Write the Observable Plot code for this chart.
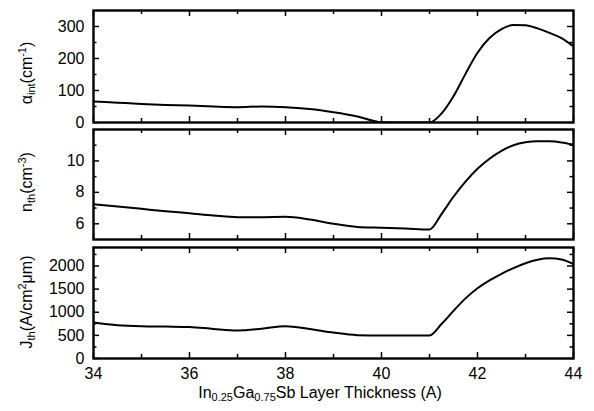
<!DOCTYPE html>
<html>
<head>
<meta charset="utf-8">
<script src="https://cdn.jsdelivr.net/npm/d3@7"></script>
<script src="https://cdn.jsdelivr.net/npm/@observablehq/plot@0.6"></script>
<style>
  html, body { margin: 0; padding: 0; background: #fff; }
  #chart { position: relative; width: 594px; height: 411px; overflow: hidden; font-family: "Liberation Sans", Arial, sans-serif; }
  #chart svg { position: absolute; left: 0; overflow: visible; }
</style>
</head>
<body>
<div id="chart"></div>
<script>
// ---- data ----
const thickness = [34, 34.5, 35, 35.5, 36, 36.5, 37, 37.5, 38, 38.5, 39, 39.5, 40, 40.5, 41,
                   41.25, 41.5, 41.75, 42, 42.25, 42.5, 42.75, 43, 43.25, 43.5, 43.75, 44];
const alphaInt = [66, 62, 58, 55, 53, 50, 48, 50, 48, 42, 32, 19, 1, 0, 0,
                  28, 82, 152, 218, 264, 292, 305, 304, 294, 280, 264, 238];
const nTh = [7.24, 7.1, 6.95, 6.8, 6.67, 6.53, 6.42, 6.42, 6.44, 6.27, 6.0, 5.8, 5.75, 5.7, 5.64,
             6.62, 7.72, 8.68, 9.5, 10.14, 10.64, 11.0, 11.19, 11.26, 11.25, 11.18, 11.03];
const jTh = [776, 720, 697, 690, 682, 640, 608, 645, 700, 640, 560, 505, 495, 500, 498,
             745, 1030, 1300, 1520, 1690, 1830, 1955, 2060, 2135, 2165, 2140, 2040];

const xMajor = [34, 36, 38, 40, 42, 44];
const xMinor = [35, 37, 39, 41, 43];
const alphaMajor = [0, 100, 200, 300], alphaMinor = [50, 150, 250];
const nMajor = [6, 8, 10], nMinor = [7, 9, 11];
const jMajor = [0, 500, 1000, 1500, 2000], jMinor = [250, 750, 1250, 1750, 2250];

const W = 594, ML = 93, MR = 21;
const font = '"Liberation Sans", Arial, sans-serif';
const chart = document.getElementById("chart");

function panel({values, domain, major, minor, top, height, mt, mb, xAxis}) {
  const pw = W - ML - MR, ph = height - mt - mb;
  const data = thickness.map((x, i) => ({x, v: values[i]}));
  const marks = [
    Plot.tickY(major, {y: d => d, insetRight: pw - 6, strokeWidth: 1.5}),
    Plot.tickY(major, {y: d => d, insetLeft: pw - 6, strokeWidth: 1.5}),
    Plot.tickY(minor, {y: d => d, insetRight: pw - 3.5, strokeWidth: 1.5}),
    Plot.tickY(minor, {y: d => d, insetLeft: pw - 3.5, strokeWidth: 1.5}),
    Plot.tickX(xMajor, {x: d => d, insetBottom: ph - 6, strokeWidth: 1.5}),
    Plot.tickX(xMajor, {x: d => d, insetTop: ph - 6, strokeWidth: 1.5}),
    Plot.tickX(xMinor, {x: d => d, insetBottom: ph - 4, strokeWidth: 1.5}),
    Plot.tickX(xMinor, {x: d => d, insetTop: ph - 4, strokeWidth: 1.5}),
    Plot.line(data, {x: "x", y: "v", curve: "monotone-x", strokeWidth: 2, stroke: "#000", clip: true}),
    Plot.frame({strokeWidth: 2.4}),
    Plot.axisY(major, {tickSize: 0, tickPadding: 9, fontSize: 16, label: null, tickFormat: d3.format("d")})
  ];
  if (xAxis) marks.push(Plot.axisX(xMajor, {tickSize: 0, tickPadding: 9, fontSize: 16, label: null, tickFormat: d3.format("d")}));
  const svg = Plot.plot({
    width: W, height,
    marginLeft: ML, marginRight: MR, marginTop: mt, marginBottom: mb,
    x: {domain: [34, 44], axis: xAxis ? undefined : null, label: null},
    y: {domain, label: null},
    style: {fontFamily: font, fontSize: "16px", background: "transparent", overflow: "visible", color: "#000"},
    marks
  });
  svg.style.top = top + "px";
  chart.appendChild(svg);
}

panel({values: alphaInt, domain: [0, 350], major: alphaMajor, minor: alphaMinor, top: 0, height: 126, mt: 10, mb: 4});
panel({values: nTh, domain: [5, 12], major: nMajor, minor: nMinor, top: 125, height: 118, mt: 4, mb: 4});
panel({values: jTh, domain: [0, 2400], major: jMajor, minor: jMinor, top: 243, height: 168, mt: 4, mb: 53, xAxis: true});

// ---- labels with sub/superscripts ----
const overlay = d3.select(chart).append("svg")
  .attr("width", W).attr("height", 411).style("top", "0px")
  .attr("font-family", font).attr("font-size", 16).attr("fill", "#000");

function rich(g, parts) {
  const t = g.append("text");
  for (const [s, kind] of parts) {
    const ts = t.append("tspan").text(s);
    if (kind === "sub") ts.attr("font-size", 11).attr("baseline-shift", "-30%");
    else if (kind === "sup") ts.attr("font-size", 11).attr("baseline-shift", "55%");
  }
  return t;
}
function yLabel(cy, parts) {
  rich(overlay.append("g").attr("transform", `translate(32,${cy}) rotate(-90)`), parts)
    .attr("text-anchor", "middle");
}
yLabel(73, [["α"], ["int", "sub"], ["(cm"], ["-1", "sup"], [")"]]);
yLabel(182, [["n"], ["th", "sub"], ["(cm"], ["-3", "sup"], [")"]]);
yLabel(302, [["J"], ["th", "sub"], ["(A/cm"], ["2", "sup"], ["μm)"]]);

rich(overlay.append("g").attr("transform", "translate(320,398)"),
  [["In"], ["0.25", "sub"], ["Ga"], ["0.75", "sub"], ["Sb Layer Thickness (A)"]])
  .attr("text-anchor", "middle");
</script>
</body>
</html>
